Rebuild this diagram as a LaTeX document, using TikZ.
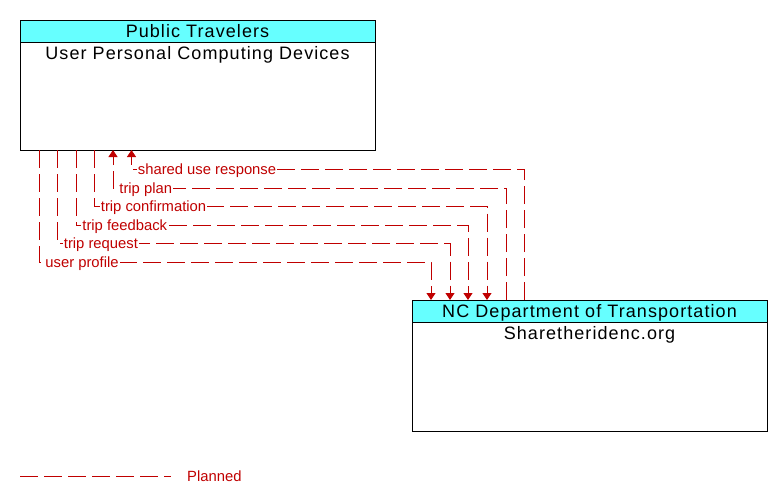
\documentclass[tikz,border=0pt]{standalone}
\usepackage{fontspec}
\setmainfont{Liberation Sans}
\newfontfamily\boxfont{Liberation Sans}[LetterSpace=6]
\usetikzlibrary{arrows.meta}
\definecolor{flowred}{RGB}{192,0,0}
\definecolor{headcyan}{RGB}{102,255,255}

\begin{document}
\begin{tikzpicture}[x=1pt,y=-1pt,
	header/.style={draw,fill=headcyan,anchor=north west,outer sep=0pt,inner sep=0pt,
		minimum width=355pt,minimum height=22pt,text height=13.1pt,text depth=0pt,
		font=\boxfont\fontsize{18}{20}\selectfont},
	body/.style={draw,anchor=north west,outer sep=0pt,inner sep=0pt,
		minimum width=355pt,minimum height=108pt},
	bodytext/.style={anchor=north,inner sep=4.5pt,font=\boxfont\fontsize{18}{20}\selectfont},
	flowline/.style={draw=flowred,line width=0.8pt,dash pattern=on 18pt off 6pt},
	flow/.style={flowline,-{Triangle[width=9pt,length=7pt]}},
	lbl/.style={text=flowred,fill=white,inner sep=1pt,anchor=west,xshift=5pt,yshift=-1.5pt,
		font=\fontsize{14.8}{16}\selectfont},
	legendtext/.style={text=flowred,inner sep=1pt,anchor=west,font=\fontsize{14.8}{16}\selectfont}]
	\useasboundingbox (0,0) rectangle (782,503);

	% Nodes start here
	\node[header] (pt) at (20,20) {Public Travelers};
	\node[body,label={[bodytext]north:User Personal Computing Devices}] (upcd) at (pt.south west) {};
	\node[header] (ncdot) at (412,300) {NC Department of Transportation};
	\node[body,minimum height=109pt,label={[bodytext]north:Sharetheridenc.org}] (snc) at (ncdot.south west) {};

	% Lines start here
	\draw[flow] ([xshift=19pt]upcd.south west) -- ++(0,112)
		-| node[lbl,pos=0] {user profile} ([xshift=19pt]ncdot.north west);
	\draw[flow] ([xshift=37.5pt]upcd.south west) -- ++(0,93.5)
		-| node[lbl,pos=0] {trip request} ([xshift=38pt]ncdot.north west);
	\draw[flow] ([xshift=56pt]upcd.south west) -- ++(0,75)
		-| node[lbl,pos=0] {trip feedback} ([xshift=56pt]ncdot.north west);
	\draw[flow] ([xshift=74.5pt]upcd.south west) -- ++(0,56.5)
		-| node[lbl,pos=0] {trip confirmation} ([xshift=75pt]ncdot.north west);
	\draw[flow] ([xshift=94pt]ncdot.north west) -- ++(0,-112)
		-| node[lbl,pos=0.5] {trip plan} ([xshift=93pt]upcd.south west);
	\draw[flow] ([xshift=112pt]ncdot.north west) -- ++(0,-130.5)
		-| node[lbl,pos=0.5] {shared use response} ([xshift=111.5pt]upcd.south west);

	% Legend
	\node[legendtext] (planned) at (186,476) {Planned};
	\coordinate (lg) at (20,476);
	\draw[flowline] (lg) -- ([xshift=-15pt]planned.west);

\end{tikzpicture}
\end{document}
